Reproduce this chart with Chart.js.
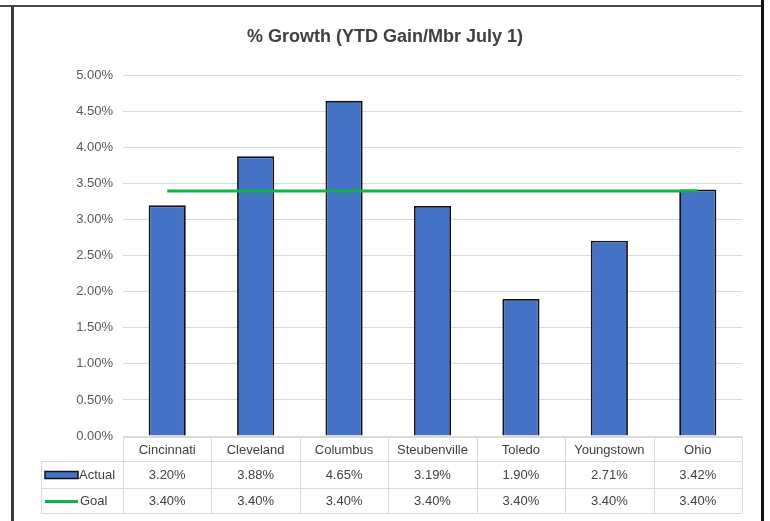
<!DOCTYPE html>
<html>
<head>
<meta charset="utf-8">
<script src="https://cdn.jsdelivr.net/npm/chart.js@4.4.0/dist/chart.umd.min.js"></script>
<style>
  html, body { margin: 0; padding: 0; background: #fff; }
  #wrap { position: relative; width: 770px; height: 521px; }
  canvas { position: absolute; left: 0; top: 0; }
  .edge { position: absolute; }
</style>
</head>
<body>
<div id="wrap">
  <canvas id="chart" width="770" height="521"></canvas>
  <div class="edge" style="left:0;top:5px;width:763px;height:2px;background:#4a4a4a"></div>
  <div class="edge" style="left:11px;top:6px;width:3px;height:515px;background:#3a3a3a"></div>
  <div class="edge" style="left:761px;top:0;width:3px;height:521px;background:#111"></div>
</div>
<script>
// data
const categories = ['Cincinnati', 'Cleveland', 'Columbus', 'Steubenville', 'Toledo', 'Youngstown', 'Ohio'];
const actual = [3.20, 3.88, 4.65, 3.19, 1.90, 2.71, 3.42];
const goal = [3.40, 3.40, 3.40, 3.40, 3.40, 3.40, 3.40];
const yTicks = [0, 0.5, 1, 1.5, 2, 2.5, 3, 3.5, 4, 4.5, 5];

const FONT = "'Liberation Sans Narrow', 'Arial Narrow', 'Liberation Sans', sans-serif";
const fmt = v => v.toFixed(2) + '%';

// data table drawn under the plot, columns follow the x scale
const dataTable = {
    id: 'dataTable',
    afterDraw(chart) {
        const ctx = chart.ctx;
        const x = chart.scales.x;
        const area = chart.chartArea;
        const colW = (x.right - x.left) / categories.length;
        const top = area.bottom + 1;
        const r1 = top + 24, r2 = r1 + 27, r3 = r2 + 25;
        const leftCol = 41;

        ctx.save();
        ctx.strokeStyle = '#d9d9d9';
        ctx.lineWidth = 1;
        ctx.beginPath();
        // horizontal lines
        ctx.moveTo(x.left, top + 0.5); ctx.lineTo(x.right, top + 0.5);
        [r1, r2, r3].forEach(y => { ctx.moveTo(leftCol, y + 0.5); ctx.lineTo(x.right, y + 0.5); });
        // vertical lines
        for (let i = 0; i <= categories.length; i++) {
            const xx = Math.round(x.left + i * colW) + 0.5;
            ctx.moveTo(xx, top); ctx.lineTo(xx, r3);
        }
        ctx.moveTo(leftCol + 0.5, r1); ctx.lineTo(leftCol + 0.5, r3);
        ctx.stroke();

        ctx.fillStyle = '#404040';
        ctx.font = '13px ' + FONT;
        ctx.textAlign = 'center';
        ctx.textBaseline = 'middle';
        categories.forEach((c, i) => {
            const cx = x.getPixelForValue(i);
            ctx.fillText(c, cx, (top + r1) / 2 + 1);
            ctx.fillText(fmt(actual[i]), cx, (r1 + r2) / 2 + 1);
            ctx.fillText(fmt(goal[i]), cx, (r2 + r3) / 2 + 1);
        });

        // legend keys
        const ds0 = chart.data.datasets[0], ds1 = chart.data.datasets[1];
        const ya = (r1 + r2) / 2, yg = (r2 + r3) / 2;
        ctx.fillStyle = ds0.backgroundColor;
        ctx.fillRect(45, ya - 3, 33, 7);
        ctx.strokeStyle = ds0.borderColor;
        ctx.lineWidth = 1.5;
        ctx.strokeRect(45, ya - 3, 33, 7);
        ctx.strokeStyle = ds1.borderColor;
        ctx.lineWidth = 3;
        ctx.beginPath();
        ctx.moveTo(45, yg + 1); ctx.lineTo(78, yg + 1);
        ctx.stroke();
        ctx.fillStyle = '#404040';
        ctx.textAlign = 'left';
        ctx.fillText('Actual', 79, ya + 1);
        ctx.fillText('Goal', 80, yg + 1);
        ctx.restore();
    }
};

new Chart(document.getElementById('chart'), {
    data: {
        labels: categories,
        datasets: [{
            type: 'bar',
            label: 'Actual',
            data: actual,
            backgroundColor: '#4472C4',
            borderColor: '#111',
            borderWidth: 1.8,
            categoryPercentage: 0.84,
            barPercentage: 0.5,
            order: 2
        }, {
            type: 'line',
            label: 'Goal',
            data: goal,
            borderColor: '#12B24A',
            borderWidth: 3,
            pointRadius: 0,
            fill: false,
            order: 1
        }]
    },
    options: {
        responsive: false,
        animation: false,
        layout: { padding: 0 },
        plugins: {
            legend: { display: false },
            tooltip: { enabled: false },
            title: {
                display: true,
                text: '% Growth (YTD Gain/Mbr July 1)',
                color: '#404040',
                font: { family: FONT, size: 18, weight: 'bold' },
                padding: { top: 26, bottom: 28 }
            }
        },
        scales: {
            x: {
                offset: true,
                grid: { display: false },
                border: { display: false },
                ticks: { display: false },
                afterFit: s => { s.height = 85; }
            },
            y: {
                min: 0,
                max: 5,
                afterBuildTicks: s => { s.ticks = yTicks.map(v => ({ value: v })); },
                grid: { color: '#d9d9d9', lineWidth: 1, drawTicks: false },
                border: { display: false },
                ticks: {
                    padding: 10,
                    color: '#595959',
                    font: { family: FONT, size: 13 },
                    callback: v => fmt(v)
                },
                afterFit: s => { s.width = 123; }
            },
            // empty right margin so the title stays centred on the page
            yRight: {
                position: 'right',
                grid: { display: false },
                border: { display: false },
                ticks: { display: false },
                afterFit: s => { s.width = 28; }
            }
        }
    },
    plugins: [dataTable]
});
</script>
</body>
</html>
